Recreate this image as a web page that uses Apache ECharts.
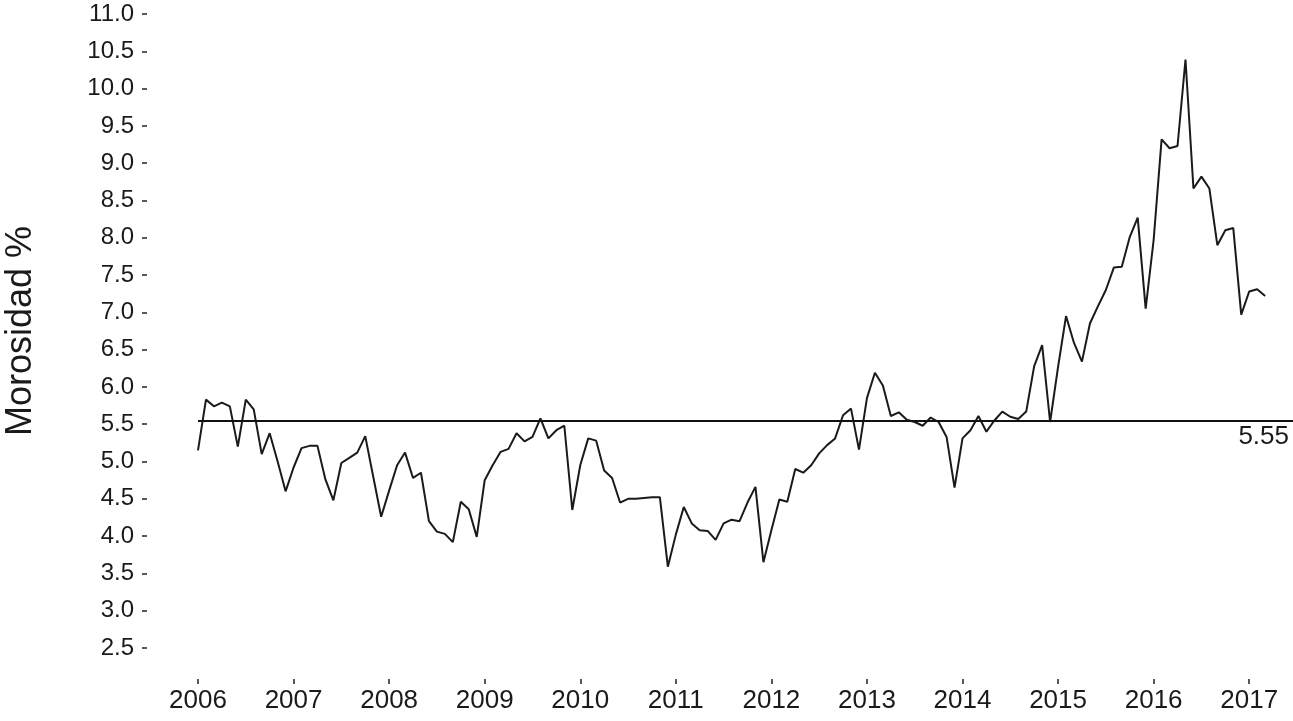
<!DOCTYPE html>
<html>
<head>
<meta charset="utf-8">
<script src="https://cdn.jsdelivr.net/npm/echarts@6/dist/echarts.min.js"></script>
<style>
html,body{margin:0;padding:0;background:#fff;}
#chart{width:1293px;height:721px;}
</style>
</head>
<body>
<div id="chart"></div>
<script>
// Monthly delinquency rate (%), starting January 2006
const startYear = 2006;
const values = [
  5.15, 5.83, 5.74, 5.79, 5.74, 5.20, 5.83, 5.70, 5.10, 5.38, 5.00, 4.60,
  4.92, 5.18, 5.21, 5.21, 4.76, 4.48, 4.98, 5.05, 5.12, 5.34, 4.80, 4.26,
  4.61, 4.95, 5.12, 4.78, 4.85, 4.20, 4.06, 4.03, 3.92, 4.46, 4.36, 3.99,
  4.75, 4.95, 5.13, 5.17, 5.38, 5.27, 5.33, 5.58, 5.31, 5.42, 5.48, 4.35,
  4.95, 5.31, 5.28, 4.88, 4.78, 4.45, 4.50, 4.50, 4.51, 4.52, 4.52, 3.59,
  4.02, 4.39, 4.17, 4.08, 4.07, 3.95, 4.17, 4.22, 4.20, 4.45, 4.66, 3.65,
  4.08, 4.49, 4.46, 4.90, 4.85, 4.95, 5.11, 5.22, 5.31, 5.62, 5.71, 5.16,
  5.85, 6.19, 6.02, 5.61, 5.66, 5.56, 5.53, 5.48, 5.59, 5.53, 5.33, 4.65,
  5.31, 5.42, 5.61, 5.40, 5.55, 5.67, 5.60, 5.57, 5.67, 6.28, 6.56, 5.53,
  6.27, 6.95, 6.59, 6.34, 6.85, 7.08, 7.30, 7.60, 7.61, 8.01, 8.27, 7.05,
  7.97, 9.32, 9.20, 9.23, 10.39, 8.66, 8.82, 8.66, 7.90, 8.10, 8.13, 6.97,
  7.28, 7.31, 7.22
];
const yearTicks = [2006, 2007, 2008, 2009, 2010, 2011, 2012, 2013, 2014, 2015, 2016, 2017];
const referenceValue = 5.55;
const yAxisName = 'Morosidad %';
const yMin = 2.5, yMax = 11, yStep = 0.5;

const seriesData = values.map((v, i) => [i, v]);
const tickMonths = yearTicks.map(y => (y - startYear) * 12);

const font = "'Liberation Sans', Arial, Helvetica, sans-serif";
const textColor = '#1a1a1a';
const chart = echarts.init(document.getElementById('chart'), null, {renderer: 'canvas'});
chart.setOption({
  animation: false,
  backgroundColor: '#ffffff',
  grid: [
    // grid holding only the visible y axis (labels + ticks)
    {left: 147, width: 10, top: 14, bottom: 73, containLabel: false, outerBoundsMode: 'none'},
    // data grid
    {left: 198, right: 0, top: 14, bottom: 73, containLabel: false, outerBoundsMode: 'none'}
  ],
  xAxis: [
    {gridIndex: 0, type: 'value', min: 0, max: 1, show: false},
    {
      gridIndex: 1,
      type: 'value',
      min: 0,
      max: 137.5,
      offset: 31,
      splitLine: {show: false},
      axisLine: {show: false},
      axisTick: {show: true, customValues: tickMonths, length: 5, lineStyle: {color: '#222', width: 1.5}},
      axisLabel: {
        customValues: tickMonths,
        formatter: v => String(startYear + Math.round(v / 12)),
        fontSize: 26, color: textColor, fontFamily: font, margin: 9
      }
    }
  ],
  yAxis: [
    {
      gridIndex: 0,
      type: 'value',
      min: yMin, max: yMax, interval: yStep,
      name: yAxisName,
      nameLocation: 'middle',
      nameRotate: 90,
      nameGap: 108,
      nameTextStyle: {fontSize: 36, color: textColor, fontFamily: font},
      splitLine: {show: false},
      axisLine: {show: false},
      axisTick: {show: true, length: 5, lineStyle: {color: '#222', width: 1.5}},
      axisLabel: {
        formatter: v => v.toFixed(1),
        fontSize: 24, color: textColor, fontFamily: font, margin: 13
      }
    },
    {
      gridIndex: 1,
      type: 'value',
      min: yMin, max: yMax, interval: yStep,
      show: false
    }
  ],
  series: [{
    type: 'line',
    xAxisIndex: 1,
    yAxisIndex: 1,
    data: seriesData,
    symbol: 'none',
    lineStyle: {color: '#1a1a1a', width: 2},
    markLine: {
      silent: true,
      symbol: 'none',
      lineStyle: {color: '#111', width: 2, type: 'solid'},
      label: {
        show: true,
        position: 'insideEndBottom',
        formatter: String(referenceValue),
        fontSize: 26, color: textColor, fontFamily: font, distance: [4, 3]
      },
      data: [{yAxis: referenceValue}]
    }
  }]
});
</script>
</body>
</html>
